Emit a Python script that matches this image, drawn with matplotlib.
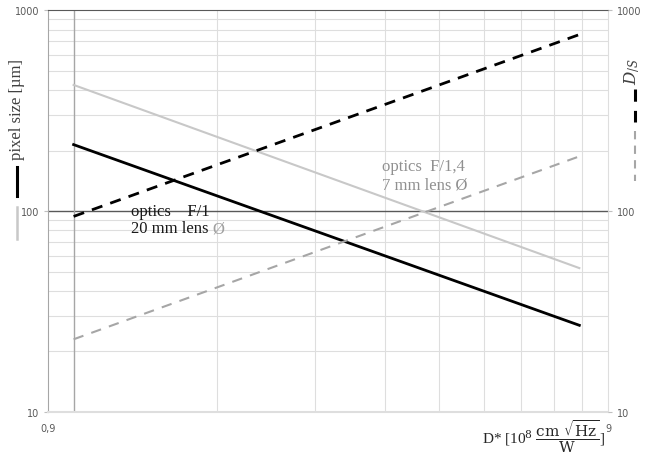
import matplotlib.pyplot as plt
from matplotlib.lines import Line2D
from matplotlib.ticker import FixedLocator, NullFormatter

# values (log-log, lines run from D* = 1 to 8)
d_star = [1, 8]
pixel_f1 = [214, 27]        # optics F/1, 20 mm lens
pixel_f14 = [424, 52]       # optics F/1,4, 7 mm lens
ds_f1 = [94, 755]
ds_f14 = [23, 187]

x_major = [0.9, 9]
x_major_labels = ['0,9', '9']
x_minor = [1.8, 2.7, 3.6, 4.5, 5.4, 6.3, 7.2, 8.1]
y_major = [10, 100, 1000]
y_minor = [20, 30, 40, 50, 60, 70, 80, 90, 200, 300, 400, 500, 600, 700, 800, 900]

plt.rcParams['font.family'] = ['DejaVu Sans']
plt.rcParams['mathtext.fontset'] = 'dejavuserif'
serif = 'Liberation Serif'
tick_col = '#595959'
grid_col = '#dedede'

fig = plt.figure(figsize=(6.45, 4.6), dpi=100)
ax = fig.add_axes([0.0744, 0.1022, 0.8682, 0.8738])
ax2 = ax.twinx()

for a in (ax, ax2):
    a.set_xscale('log')
    a.set_yscale('log')
    a.set_xlim(0.9, 9)
    a.set_ylim(10, 1000)

ax.xaxis.set_major_locator(FixedLocator(x_major))
ax.set_xticklabels(x_major_labels)
ax.xaxis.set_minor_locator(FixedLocator(x_minor))
ax.xaxis.set_minor_formatter(NullFormatter())
for a in (ax, ax2):
    a.yaxis.set_major_locator(FixedLocator(y_major))
    a.set_yticklabels([str(v) for v in y_major])
    a.yaxis.set_minor_locator(FixedLocator(y_minor))
    a.yaxis.set_minor_formatter(NullFormatter())
    a.tick_params(which='major', labelsize=7, labelcolor=tick_col, color='#bfbfbf', length=3, width=0.8)
    a.tick_params(which='minor', length=0)

ax.grid(True, which='minor', color=grid_col, lw=0.8)
ax.set_axisbelow(True)
ax.axhline(100, color='#595959', lw=1, zorder=1)
ax.axvline(1, color='#a6a6a6', lw=1, zorder=1)

ax.spines['top'].set_color('#595959')
ax.spines['left'].set_color('#a6a6a6')
ax.spines['bottom'].set_color(grid_col)
ax.spines['bottom'].set_linewidth(1.5)
ax.spines['right'].set_color(grid_col)
for s in ax2.spines.values():
    s.set_visible(False)
ax.tick_params(axis='x', which='major', length=0, pad=8)

ax.plot(d_star, pixel_f14, color='#c8c8c8', lw=1.5, zorder=3)
ax.plot(d_star, pixel_f1, color='black', lw=2, zorder=3)
ax2.plot(d_star, ds_f14, color='#a6a6a6', lw=1.5, dashes=(5, 4))
ax2.plot(d_star, ds_f1, color='black', lw=2, dashes=(4, 3))

# annotations
ax.text(1.265, 100, 'optics    F/1', fontsize=12, family=serif, va='center', color='#1a1a1a', zorder=4)
t = ax.text(1.265, 82, '20 mm lens ', fontsize=12, family=serif, va='center', color='#1a1a1a', zorder=4)
ax.annotate('\u00d8', xy=(1, 0.5), xycoords=t, va='center', ha='left', fontsize=12,
            family=serif, color='#a0a0a0')
ax.text(3.55, 167, 'optics  F/1,4', fontsize=12, family=serif, va='center', color='#909090')
ax.text(3.55, 135, '7 mm lens \u00d8', fontsize=12, family=serif, va='center', color='#909090')

# axis titles with legend marks
fig.text(0.026, 0.762, 'pixel size [\u00b5m]', rotation=90, fontsize=12, family=serif,
         color='#404040', ha='center', va='center')
fig.add_artist(Line2D([0.026, 0.026], [0.634, 0.571], color='black', lw=2.2, transform=fig.transFigure))
fig.add_artist(Line2D([0.026, 0.026], [0.548, 0.478], color='#c8c8c8', lw=1.8, transform=fig.transFigure))

fig.text(0.981, 0.845, r'$D_{/S}$', rotation=90, fontsize=12, color='#404040', ha='center', va='center')
fig.add_artist(Line2D([0.984, 0.984], [0.804, 0.732], color='black', lw=2.2, dashes=(4, 3),
                      transform=fig.transFigure))
fig.add_artist(Line2D([0.984, 0.984], [0.713, 0.604], color='#a6a6a6', lw=1.5, dashes=(4, 3),
                      transform=fig.transFigure))

fig.text(0.938, 0.05, r'D* [10$^{8}$ $\dfrac{\mathrm{cm}\ \sqrt{\mathrm{Hz}}}{\mathrm{W}}$]', fontsize=11,
         family=serif, color='#262626', ha='right', va='center')

fig.savefig('out.png', dpi=100)
